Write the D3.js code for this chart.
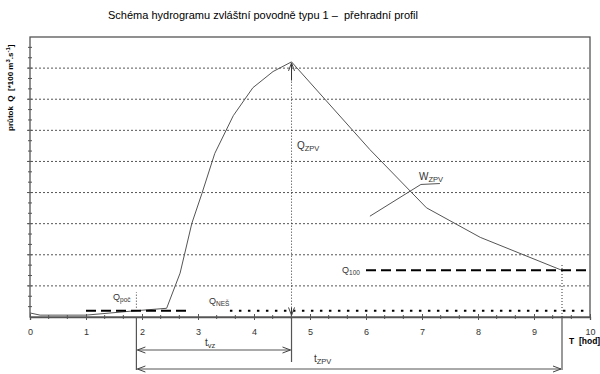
<!DOCTYPE html>
<html>
<head>
<meta charset="utf-8">
<script src="https://cdn.jsdelivr.net/npm/d3@7"></script>
<style>
  body { margin: 0; background: #fff; }
  text { font-family: "Liberation Sans", Arial, sans-serif; white-space: pre; }
</style>
</head>
<body>
<svg id="chart" width="600" height="374"></svg>
<script>
// hours on the x axis, Q in *100 m3/s
var hourTicks = [0, 1, 2, 3, 4, 5, 6, 7, 8, 9, 10];
var gridLevels = [1, 2, 3, 4, 5, 6, 7, 8];
var hydroT = [0, 0.18, 1.0, 1.88, 2.44, 2.68, 2.89, 3.07, 3.30, 3.63, 3.98, 4.34, 4.67, 6.07, 7.08, 8.04, 9.5];
var hydroQ = [0.13, 0.06, 0.06, 0.2, 0.28, 1.41, 3.01, 3.97, 5.26, 6.47, 7.37, 7.89, 8.2, 5.38, 3.51, 2.56, 1.5];
var tPoc = 1.9, tPeak = 4.67, tEnd = 9.5;
var qPoc = 0.2, qNes = 0.2, q100 = 1.5, qPeak = 8.2;
var pocSpan = [1.0, 2.8];
var nesSpan = [3.57, 10];
var q100Span = [6.0, 9.95];
var wLeaderT = [6.07, 6.98, 7.32];
var wLeaderQ = [3.24, 4.26, 4.29];

var svg = d3.select("#chart");

var margin = {top: 37, right: 10, bottom: 57, left: 30},
    width = +svg.attr("width") - margin.left - margin.right,
    height = +svg.attr("height") - margin.top - margin.bottom;

var x = d3.scaleLinear().domain([0, 10]).range([margin.left, margin.left + width]);
var y = d3.scaleLinear().domain([0, 9]).range([margin.top + height, margin.top]);

var defs = svg.append("defs");
function openHead(id, color) {
  defs.append("marker")
      .attr("id", id)
      .attr("viewBox", "-10 -5 12 10")
      .attr("refX", 0).attr("refY", 0)
      .attr("markerWidth", 12).attr("markerHeight", 10)
      .attr("markerUnits", "userSpaceOnUse")
      .attr("orient", "auto-start-reverse")
    .append("path")
      .attr("d", "M-8,-3L0,0L-8,3")
      .attr("fill", "none")
      .attr("stroke", color)
      .attr("stroke-width", 1);
}
openHead("head", "#444");

// title
svg.append("text")
    .attr("x", 263).attr("y", 19)
    .attr("text-anchor", "middle")
    .style("font-size", "11px")
    .text("Schéma hydrogramu zvláštní povodně typu 1 –  přehradní profil");

// grid
svg.append("g").selectAll("line")
  .data(gridLevels)
  .enter().append("line")
    .attr("x1", x(0) - 3).attr("x2", x(10))
    .attr("y1", function(d) { return y(d); })
    .attr("y2", function(d) { return y(d); })
    .attr("stroke", "#555")
    .attr("stroke-dasharray", "2,2");

// frame
svg.append("rect")
    .attr("x", x(0)).attr("y", y(9))
    .attr("width", width).attr("height", height)
    .attr("fill", "none")
    .attr("stroke", "#555")
    .attr("stroke-width", 1.3);

// y minor ticks every 1/3
var yMinor = d3.range(1, 27).map(function(i) { return i / 3; });
svg.append("g").selectAll("line")
  .data(yMinor)
  .enter().append("line")
    .attr("x1", x(0) - 2).attr("x2", x(0) + 2)
    .attr("y1", function(d) { return y(d); })
    .attr("y2", function(d) { return y(d); })
    .attr("stroke", "#555");

// x axis
var xAxis = svg.append("g")
    .attr("transform", "translate(0," + y(0) + ")")
    .call(d3.axisBottom(x).tickValues(hourTicks).tickSize(3).tickPadding(9));
xAxis.select(".domain").attr("stroke", "#555").attr("stroke-width", 1.3);
xAxis.selectAll(".tick line").attr("stroke", "#555").attr("y1", -3);
xAxis.selectAll(".tick text")
    .attr("fill", "#333")
    .style("font-size", "9px")
    .style("font-family", "'Liberation Sans', Arial, sans-serif");

var xMinor = d3.range(1, 30).filter(function(i) { return i % 3 !== 0; }).map(function(i) { return i / 3; });
svg.append("g").selectAll("line")
  .data(xMinor)
  .enter().append("line")
    .attr("x1", function(d) { return x(d); })
    .attr("x2", function(d) { return x(d); })
    .attr("y1", y(0) - 2).attr("y2", y(0) + 2)
    .attr("stroke", "#555");

svg.append("text")
    .attr("x", 569).attr("y", 344)
    .style("font-size", "8.5px").style("font-weight", "bold")
    .text("T  [hod]");

// y label
var yl = svg.append("text")
    .attr("transform", "translate(13,131) rotate(-90)")
    .style("font-size", "8px").style("font-weight", "bold");
yl.append("tspan").text("průtok  Q  [*100 m");
yl.append("tspan").attr("dy", -3).style("font-size", "6px").text("3");
yl.append("tspan").attr("dy", 3).text(".s");
yl.append("tspan").attr("dy", -3).style("font-size", "6px").text("-1");
yl.append("tspan").attr("dy", 3).text("]");

// hydrograph
var pts = hydroT.map(function(t, i) { return [t, hydroQ[i]]; });
svg.append("path")
    .datum(pts)
    .attr("d", d3.line().x(function(d) { return x(d[0]); }).y(function(d) { return y(d[1]); }))
    .attr("fill", "none")
    .attr("stroke", "#555")
    .attr("stroke-width", 1);

// level lines
svg.append("line")
    .attr("x1", x(pocSpan[0])).attr("x2", x(pocSpan[1]))
    .attr("y1", y(qPoc)).attr("y2", y(qPoc))
    .attr("stroke", "#000").attr("stroke-width", 2)
    .attr("stroke-dasharray", "10,5");
svg.append("line")
    .attr("x1", x(nesSpan[0])).attr("x2", x(nesSpan[1]))
    .attr("y1", y(qNes)).attr("y2", y(qNes))
    .attr("stroke", "#000").attr("stroke-width", 2)
    .attr("stroke-dasharray", "2.5,6.5");
svg.append("line")
    .attr("x1", x(q100Span[0])).attr("x2", x(q100Span[1]))
    .attr("y1", y(q100)).attr("y2", y(q100))
    .attr("stroke", "#000").attr("stroke-width", 2)
    .attr("stroke-dasharray", "10,5");

// dotted verticals
function vDot(t, q0, q1) {
  svg.append("line")
      .attr("x1", x(t)).attr("x2", x(t))
      .attr("y1", y(q0)).attr("y2", y(q1))
      .attr("stroke", "#333").attr("stroke-dasharray", "1,2");
}
vDot(tPoc, 0.3, 0.8);
vDot(tEnd, 0, q100 + 0.2);
vDot(tPeak, 0.3, qPeak - 0.6);

// peak arrows
svg.append("line")
    .attr("x1", x(tPeak)).attr("x2", x(tPeak))
    .attr("y1", y(qPeak - 0.6)).attr("y2", y(qPeak) + 1)
    .attr("stroke", "#333")
    .attr("marker-end", "url(#head)");
svg.append("line")
    .attr("x1", x(tPeak)).attr("x2", x(tPeak))
    .attr("y1", y(0.3)).attr("y2", y(0.05))
    .attr("stroke", "#333")
    .attr("marker-end", "url(#head)");

// time spans below the axis
function vSolid(t, yb) {
  svg.append("line")
      .attr("x1", x(t)).attr("x2", x(t))
      .attr("y1", y(0)).attr("y2", yb)
      .attr("stroke", "#555").attr("stroke-width", 1.2);
}
vSolid(tPoc, 370);
vSolid(tPeak, 362);
vSolid(tEnd, 370);

function span(t0, t1, yy) {
  svg.append("line")
      .attr("x1", x(t0) + 1).attr("x2", x(t1) - 1)
      .attr("y1", yy).attr("y2", yy)
      .attr("stroke", "#555")
      .attr("marker-start", "url(#head)")
      .attr("marker-end", "url(#head)");
}
span(tPoc, tPeak, 350);
span(tPoc, tEnd, 369);

// labels with subscripts
function subLabel(px, py, main, sub, size) {
  var t = svg.append("text")
      .attr("x", px).attr("y", py)
      .attr("fill", "#333")
      .style("font-size", size + "px");
  t.append("tspan").text(main);
  t.append("tspan").attr("dy", 2).style("font-size", (size - 2.5) + "px").text(sub);
  return t;
}
subLabel(113, 300, "Q", "poč", 9);
subLabel(209, 304, "Q", "NEŠ", 9);
subLabel(342, 273, "Q", "100", 9);
subLabel(297, 149, "Q", "ZPV", 10);
subLabel(205, 346, "t", "vz", 10);
subLabel(314, 362, "t", "ZPV", 10);
subLabel(419, 180, "W", "ZPV", 10);

// W leader line
var lead = wLeaderT.map(function(t, i) { return [x(t), y(wLeaderQ[i])]; });
svg.append("path")
    .attr("d", d3.line()(lead))
    .attr("fill", "none")
    .attr("stroke", "#555");
</script>
</body>
</html>
